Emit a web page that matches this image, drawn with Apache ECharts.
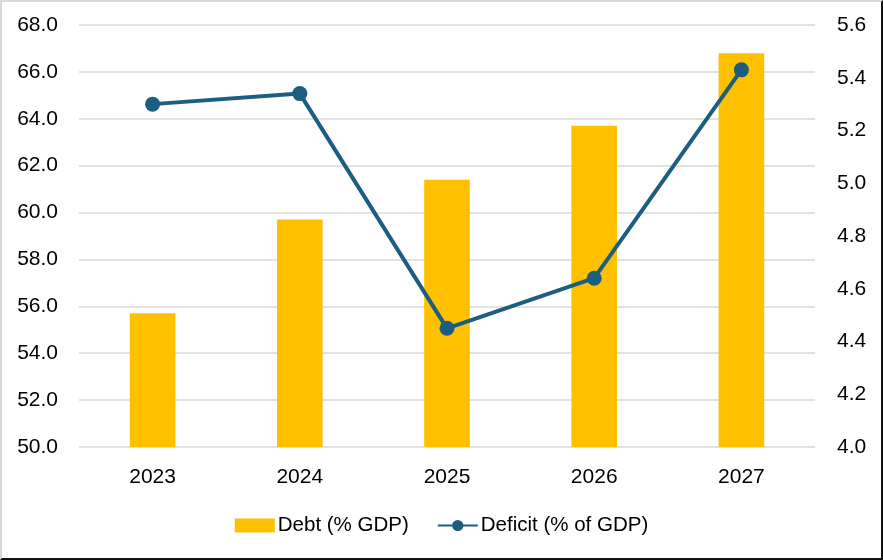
<!DOCTYPE html>
<html>
<head>
<meta charset="utf-8">
<script src="https://cdn.jsdelivr.net/npm/echarts@6/dist/echarts.min.js"></script>
<style>
html,body{margin:0;padding:0;background:#fff;}
#chart{width:883px;height:560px;box-sizing:border-box;border-top:2px solid #d9d9d9;border-left:2px solid #d9d9d9;border-right:2px solid #111;border-bottom:2px solid #111;}
</style>
</head>
<body>
<div id="chart"></div>
<script>
let years=["2023","2024","2025","2026","2027"];
let debt=[55.7,59.7,61.4,63.7,66.8];
let deficit=[5.30,5.34,4.45,4.64,5.43];

let chart=echarts.init(document.getElementById('chart'));
let font="Liberation Sans";

chart.setOption({
	animation:false,
	textStyle:{fontFamily:font},
	grid:{left:77,right:66,top:23,bottom:111},
	legend:{
		bottom:17,
		left:"center",
		itemGap:28,
		itemWidth:40,
		itemHeight:14,
		textStyle:{fontSize:20.5,color:"#000",fontFamily:font,padding:[0,0,0,-2]},
		data:[
			{name:"Debt (% GDP)",icon:"rect"},
			{name:"Deficit (% of GDP)"}
		]
	},
	xAxis:{
		type:"category",
		data:years,
		axisLine:{show:false},
		axisTick:{show:false},
		axisLabel:{fontSize:21,color:"#000",margin:20}
	},
	yAxis:[
		{
			type:"value",
			min:50,
			max:68,
			interval:2,
			axisLine:{show:false},
			axisTick:{show:false},
			axisLabel:{fontSize:21,color:"#000",margin:21,formatter:function(v){return v.toFixed(1);}},
			splitLine:{lineStyle:{color:"#d9d9d9",width:1.5}}
		},
		{
			type:"value",
			min:4.0,
			max:5.6,
			interval:0.2,
			axisLine:{show:false},
			axisTick:{show:false},
			axisLabel:{fontSize:21,color:"#000",margin:22,formatter:function(v){return v.toFixed(1);}},
			splitLine:{show:false}
		}
	],
	series:[
		{
			name:"Debt (% GDP)",
			type:"bar",
			data:debt,
			barWidth:"31%",
			itemStyle:{color:"#ffc000"}
		},
		{
			name:"Deficit (% of GDP)",
			type:"line",
			yAxisIndex:1,
			data:deficit,
			symbol:"circle",
			symbolSize:15,
			lineStyle:{color:"#1b5e80",width:4},
			itemStyle:{color:"#1b5e80"}
		}
	]
});
</script>
</body>
</html>
